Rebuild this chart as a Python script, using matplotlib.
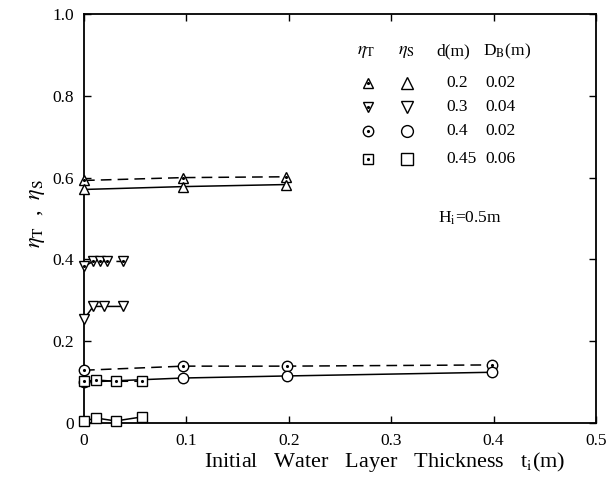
import matplotlib
matplotlib.use("Agg")
import matplotlib.pyplot as plt

plt.rcParams['font.family'] = ['Liberation Serif', 'DejaVu Serif']
plt.rcParams['mathtext.fontset'] = 'stix'

# eta_T (dashed, dotted markers) and eta_S (solid, open markers) per case
tri_t_x = [0, 0.097, 0.197]
tri_t_y = [0.593, 0.600, 0.602]
tri_s_x = [0, 0.097, 0.197]
tri_s_y = [0.571, 0.578, 0.583]

inv_t_x = [0, 0.009, 0.016, 0.022, 0.038]
inv_t_y = [0.383, 0.395, 0.395, 0.395, 0.395]
inv_s_x = [0, 0.009, 0.020, 0.038]
inv_s_y = [0.254, 0.285, 0.285, 0.285]

cir_t_x = [0, 0.097, 0.198, 0.398]
cir_t_y = [0.129, 0.139, 0.139, 0.142]
cir_s_x = [0, 0.097, 0.198, 0.398]
cir_s_y = [0.100, 0.110, 0.115, 0.124]

sq_t_x = [0, 0.012, 0.031, 0.057]
sq_t_y = [0.102, 0.105, 0.102, 0.102]
sq_s_x = [0, 0.012, 0.031, 0.057]
sq_s_y = [0.005, 0.012, 0.005, 0.015]

d_vals = ['0.2', '0.3', '0.4', '0.45']
db_vals = ['0.02', '0.04', '0.02', '0.06']
markers = ['^', 'v', 'o', 's']

fig = plt.figure(figsize=(6.15, 4.93), dpi=100)
ax = fig.add_axes([0.1366, 0.142, 0.8324, 0.8296])

ms = 7.5
series = [
    (tri_t_x, tri_t_y, tri_s_x, tri_s_y, '^'),
    (inv_t_x, inv_t_y, inv_s_x, inv_s_y, 'v'),
    (cir_t_x, cir_t_y, cir_s_x, cir_s_y, 'o'),
    (sq_t_x, sq_t_y, sq_s_x, sq_s_y, 's'),
]
for tx, ty, sx, sy, m in series:
    ax.plot(tx, ty, color='black', lw=1.1, ls=(0, (7, 4)), marker=m, ms=ms,
            mfc='white', mec='black', mew=1.0, clip_on=False, zorder=3)
    ax.plot(tx, ty, ls='none', marker='.', ms=2.5, color='black',
            clip_on=False, zorder=4)
    ax.plot(sx, sy, color='black', lw=1.1, ls='-', marker=m, ms=ms,
            mfc='white', mec='black', mew=1.0, clip_on=False, zorder=3)

ax.set_xlim(0, 0.5)
ax.set_ylim(0, 1.0)
ax.set_xticks([0, 0.1, 0.2, 0.3, 0.4, 0.5])
ax.set_xticklabels(['0', '0.1', '0.2', '0.3', '0.4', '0.5'])
ax.set_yticks([0, 0.2, 0.4, 0.6, 0.8, 1.0])
ax.set_yticklabels(['0', '0.2', '0.4', '0.6', '0.8', '1.0'])
ax.tick_params(direction='in', top=True, right=True, length=5, width=1,
               labelsize=12.5, pad=7)
for s in ax.spines.values():
    s.set_linewidth(1.3)

ax.set_xlabel(r'Initial   Water   Layer   Thickness   t$_{\rm i}$(m)', fontsize=16)
ax.xaxis.set_label_coords(0.588, -0.065)
ax.set_ylabel(r'$\eta_{\rm T}$  ,  $\eta_{\rm S}$', fontsize=16)
ax.yaxis.set_label_coords(-0.072, 0.513)

# legend table
tr = ax.transAxes
ax.text(0.551, 0.908, r'$\eta_{\rm T}$', transform=tr, fontsize=13, ha='center', va='center')
ax.text(0.629, 0.908, r'$\eta_{\rm S}$', transform=tr, fontsize=13, ha='center', va='center')
ax.text(0.721, 0.908, 'd(m)', transform=tr, fontsize=12.5, ha='center', va='center')
ax.text(0.826, 0.908, r'D$_{\rm B}$(m)', transform=tr, fontsize=12.5, ha='center', va='center')
row_y = [0.831, 0.773, 0.714, 0.646]
for i, m in enumerate(markers):
    ax.plot([0.555], [row_y[i]], transform=tr, marker=m, ms=ms, mfc='white',
            mec='black', mew=1.0, ls='none', clip_on=False)
    ax.plot([0.555], [row_y[i]], transform=tr, marker='.', ms=2.5, color='black',
            ls='none', clip_on=False)
    ax.plot([0.631], [row_y[i]], transform=tr, marker=m, ms=ms + 1, mfc='white',
            mec='black', mew=1.0, ls='none', clip_on=False)
    ax.text(0.708, row_y[i], d_vals[i], transform=tr, fontsize=12.5, ha='left', va='center')
    ax.text(0.784, row_y[i], db_vals[i], transform=tr, fontsize=12.5, ha='left', va='center')

ax.text(0.691, 0.501, r'H$_{\rm i}$=0.5m', transform=tr, fontsize=12.5, ha='left', va='center')

fig.savefig('out.png', dpi=100)
